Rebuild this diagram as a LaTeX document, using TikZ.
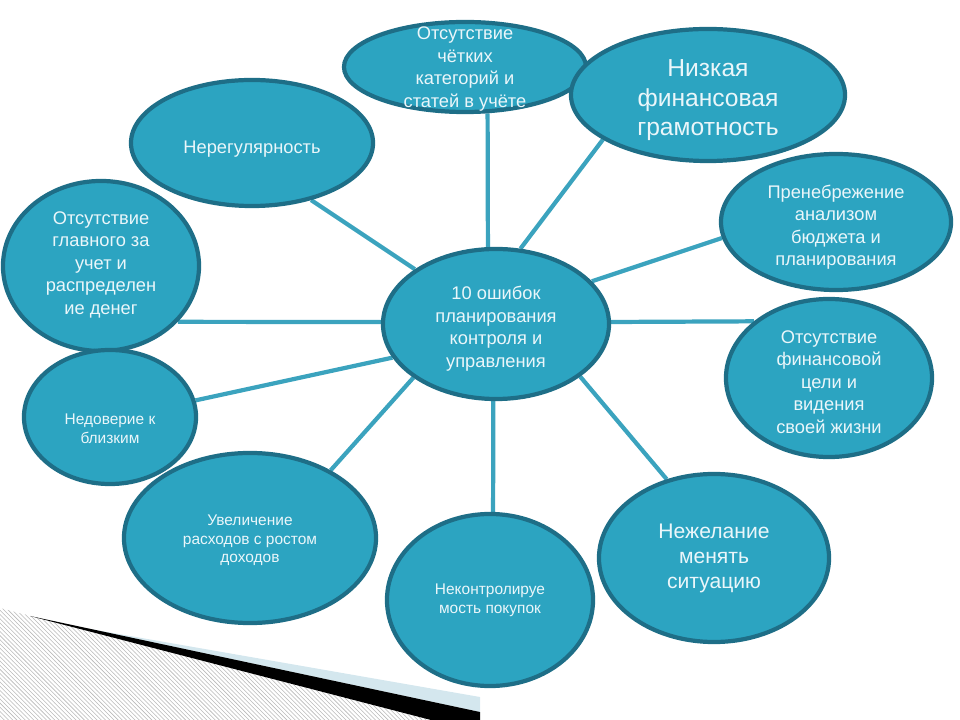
\documentclass[tikz,border=0pt]{standalone}
\usepackage{fontspec}
\setmainfont{Liberation Sans}
\usepackage{tikz}
\usetikzlibrary{shapes,backgrounds,patterns}

\definecolor{bubblefill}{HTML}{2CA4C1}
\definecolor{bubbleedge}{HTML}{1E6E87}
\definecolor{spoke}{HTML}{3BA3BE}
\definecolor{bubbletext}{HTML}{EAF6FA}
\definecolor{curlblue}{HTML}{D4E7EE}

% text of a bubble, not widening the ellipse
\newcommand{\bubtext}[2][-7pt]{\makebox[0pt]{\smash{\raisebox{#1}{\begin{tabular}{@{}c@{}}#2\end{tabular}}}}}

\begin{document}
\begin{tikzpicture}[
        x=0.025cm, y=-0.025cm,
        bubble/.style = {ellipse, draw=bubbleedge, line width=3pt, fill=bubblefill, text=bubbletext, inner sep=0pt, font=\fontsize{13}{16}\selectfont},
        small/.style = {font=\fontsize{11}{13.3}\selectfont},
        big/.style = {font=\fontsize{17.5}{21}\selectfont},
        mid/.style = {font=\fontsize{15}{17.8}\selectfont},
        line/.style = {draw=spoke, line width=3pt}
    ]
    \useasboundingbox (0,0) rectangle (960,720);

    \node [bubble, minimum width=6.05cm, minimum height=2.25cm] (categories) at (465,67) {\bubtext[-4.5pt]{Отсутствие\\чётких\\категорий и\\статей в учёте}};
    \node [bubble, big, minimum width=6.85cm, minimum height=3.3cm] (literacy) at (708,95) {\bubtext[-8pt]{Низкая\\финансовая\\грамотность}};
    \node [bubble, minimum width=6.05cm, minimum height=3.15cm] (irregular) at (252,143) {\bubtext{Нерегулярность}};
    \node [bubble, minimum width=4.9cm, minimum height=4.25cm] (owner) at (101,266) {\bubtext[-2pt]{Отсутствие\\главного за\\учет и\\распределен\\ие денег}};
    \node [bubble, minimum width=5.75cm, minimum height=3.4cm] (budget) at (836,222) {\bubtext{Пренебрежение\\анализом\\бюджета и\\планирования}};
    \node [bubble, minimum width=5.65cm, minimum height=3.75cm] (errors) at (496,324) {\bubtext[-6.5pt]{10 ошибок\\планирования\\контроля и\\управления}};
    \node [bubble, minimum width=5.15cm, minimum height=3.95cm] (goal) at (829,378) {\bubtext{Отсутствие\\финансовой\\цели и\\видения\\своей жизни}};
    \node [bubble, small, minimum width=4.3cm, minimum height=3.35cm] (distrust) at (110,417) {\bubtext[-12pt]{Недоверие к\\близким}};
    \node [bubble, small, minimum width=6.3cm, minimum height=4.25cm] (spending) at (250,538) {\bubtext[-4.5pt]{Увеличение\\расходов с ростом\\доходов}};
    \node [bubble, small, minimum width=5.15cm, minimum height=4.3cm] (purchases) at (490,600) {\bubtext[-3pt]{Неконтролируе\\мость покупок}};
    \node [bubble, mid, minimum width=5.75cm, minimum height=4.2cm] (change) at (714,558) {\bubtext[-4pt]{Нежелание\\менять\\ситуацию}};

    \begin{scope}[on background layer]
    % page curl in the corner
    \fill [pattern=north west lines, pattern color=gray!55] (0,608) -- (431,720) -- (0,720) -- cycle;
    \fill [curlblue] (90,629) -- (480,697) -- (480,712) -- cycle;
    \fill [black] (30,616) -- (480,712) -- (480,720) -- (431,720) -- cycle;

    \path [line] (errors.96.8) -- (categories.-64);
    \path [line] (errors.72) -- (literacy.203);
    \path [line] (errors.146.3) -- (irregular.-44);
    \path [line] (errors.179) -- (owner.-36.7);
    \path [line] (errors.24) -- (budget.188);
    \path [line] (errors.1) -- (goal.143);
    \path [line] (errors.198.6) -- (distrust.11.6);
    \path [line] (errors.213.7) -- (spending.40.4);
    \path [line] (errors.268) -- (purchases.88);
    \path [line] (errors.-32.7) -- (change.121.5);
    \end{scope}
\end{tikzpicture}
\end{document}
